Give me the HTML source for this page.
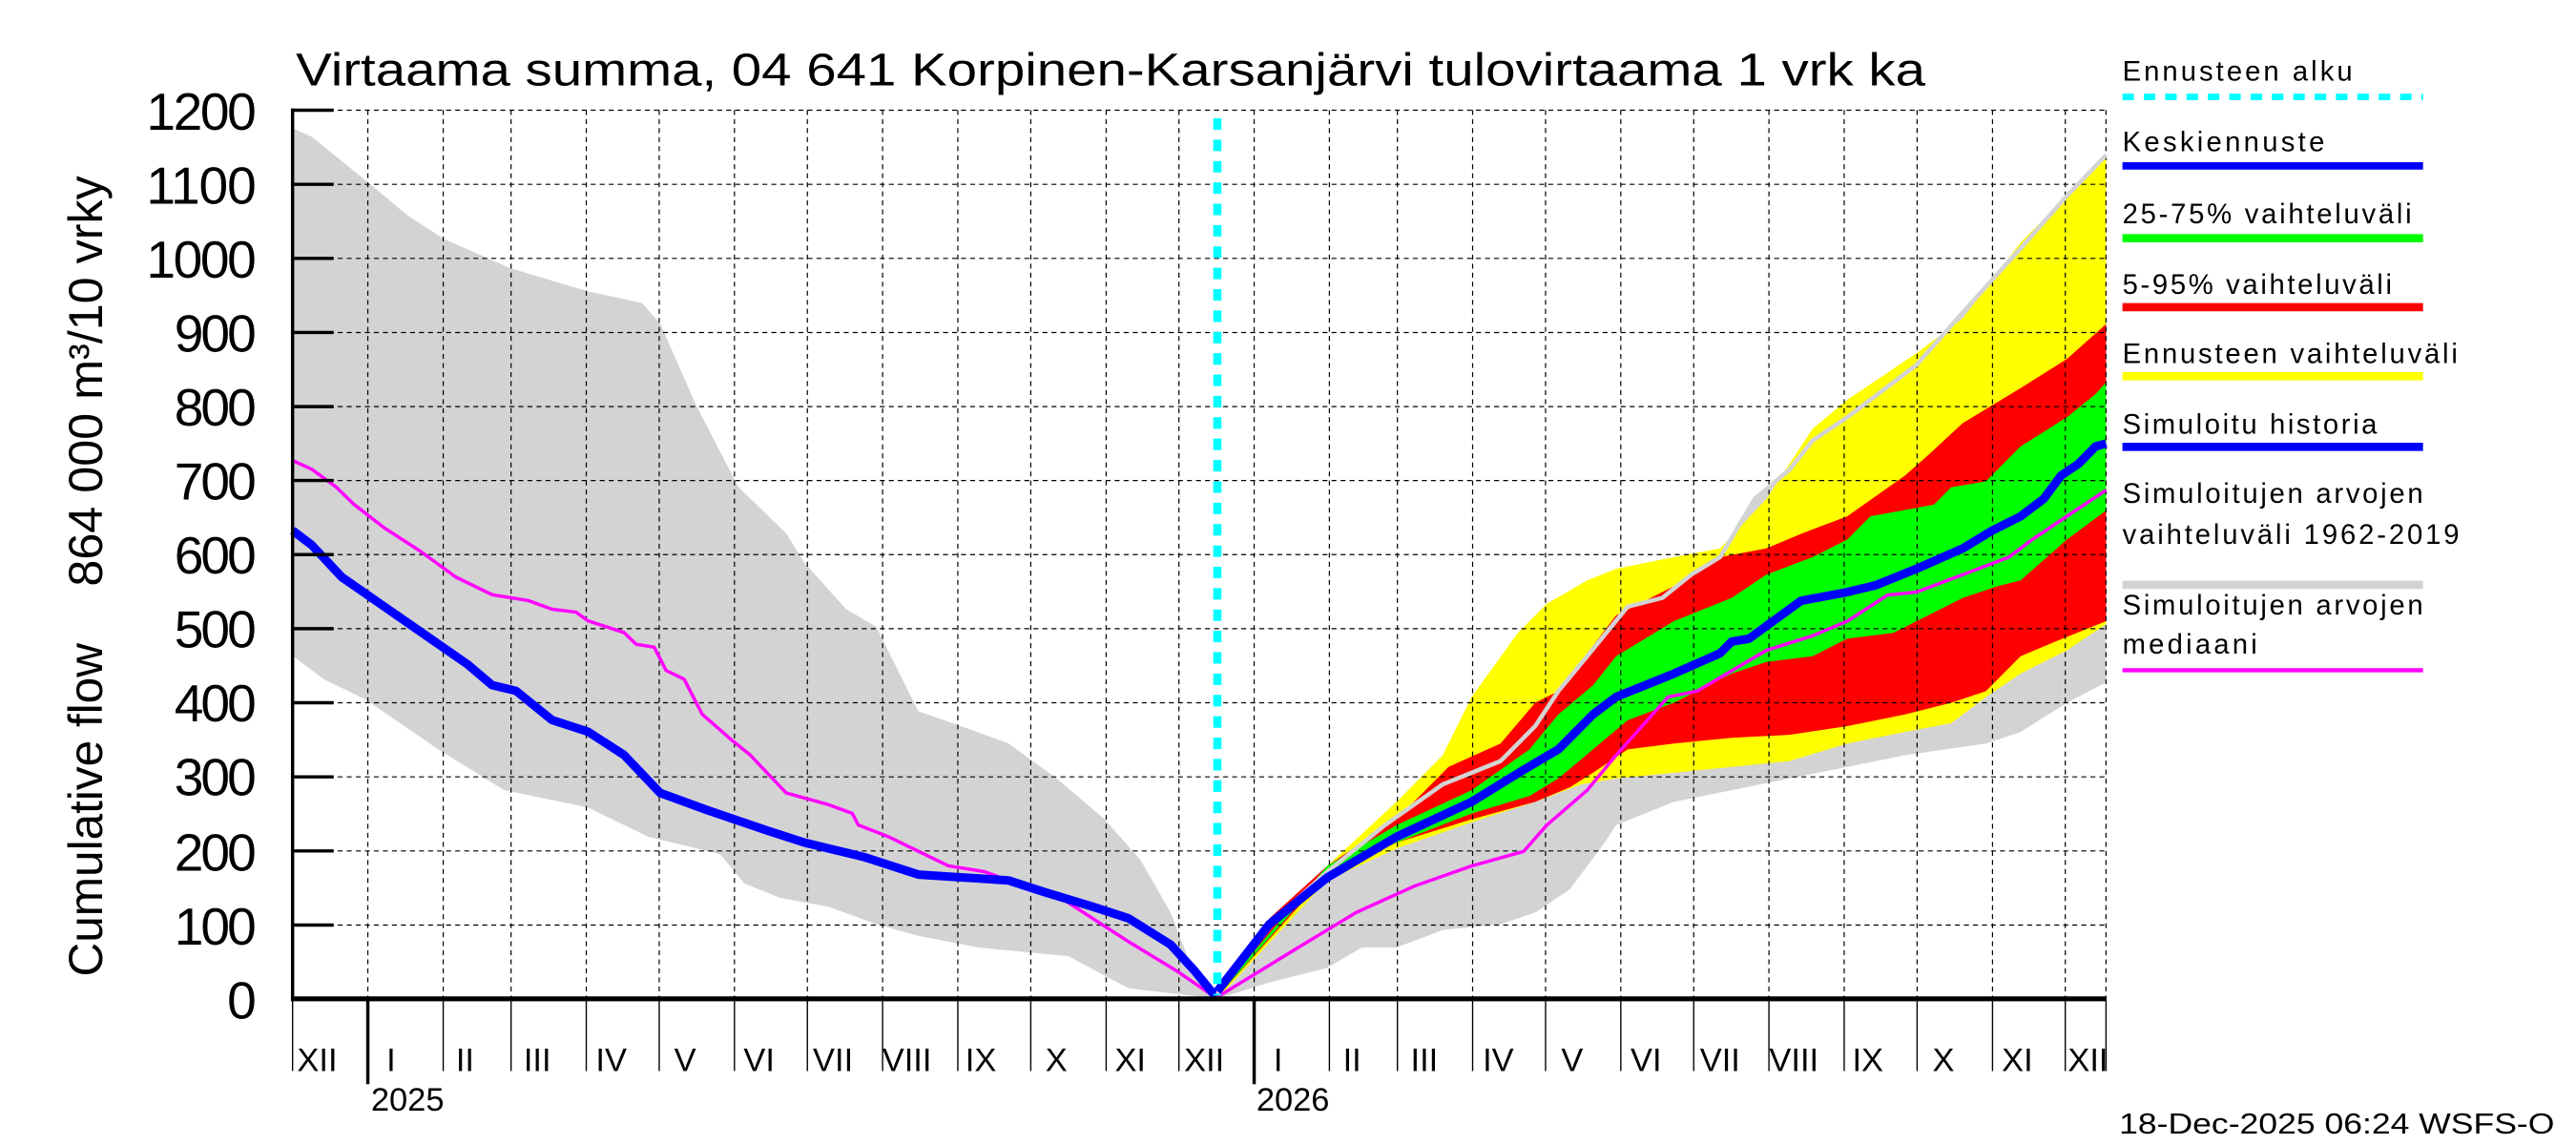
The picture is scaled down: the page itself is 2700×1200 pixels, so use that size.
<!DOCTYPE html>
<html><head><meta charset="utf-8"><style>
html,body{margin:0;padding:0;background:#fff;}
svg{display:block;}
text{font-family:"Liberation Sans",sans-serif;fill:#000;}
</style></head><body>
<svg width="2700" height="1200" viewBox="0 0 1568 697" xmlns="http://www.w3.org/2000/svg">
<rect width="1568" height="697" fill="#fff"/>
<g transform="translate(178 608) scale(0.3656 0.355) translate(-8 -1548)">
<polygon fill="#d3d3d3" points="8,55 40,70 130,145 200,205 260,245 370,295 500,335 590,355 620,390 680,530 750,670 830,750 860,800 930,880 980,910 1050,1055 1120,1080 1200,1110 1280,1170 1360,1240 1420,1310 1470,1400 1500,1480 1548,1548 1400,1530 1300,1475 1150,1460 1050,1440 980,1420 900,1390 820,1375 760,1350 720,1300 600,1270 500,1220 360,1190 250,1120 130,1035 60,1000 8,960"/>
</g>
<g transform="translate(741 608) scale(0.3518 0.3547) translate(-10 -1548)">
<polygon fill="#d3d3d3" points="10,1540 100,1420 200,1330 300,1250 400,1180 500,1140 560,1080 600,1020 650,960 720,875 780,860 830,820 880,790 940,690 1000,640 1040,590 1100,550 1220,460 1300,370 1400,260 1480,170 1548,100 1548,1005 1480,1040 1400,1090 1340,1110 1200,1130 1100,1150 1000,1170 900,1190 800,1210 700,1250 680,1280 620,1360 560,1400 500,1420 400,1430 320,1460 260,1460 200,1495 100,1520 10,1548"/>
<polygon fill="#ffff00" points="10,1540 100,1420 200,1320 320,1210 400,1130 450,1030 530,920 580,870 650,830 700,810 800,790 880,775 960,690 1040,570 1100,520 1220,440 1300,380 1400,250 1480,170 1548,105 1548,905 1480,950 1400,990 1340,1030 1280,1075 1200,1090 1100,1110 1000,1140 900,1150 800,1160 700,1170 640,1180 560,1210 450,1245 320,1290 200,1345 10,1548"/>
<polygon fill="#ff0000" points="10,1540 100,1410 200,1320 320,1240 410,1150 500,1110 560,1040 600,1020 700,890 800,840 880,790 960,775 1020,750 1100,720 1200,650 1240,615 1300,560 1400,500 1480,450 1548,390 1548,900 1460,935 1400,960 1340,1020 1280,1040 1200,1060 1100,1080 1000,1095 900,1100 800,1110 720,1120 660,1160 620,1185 560,1210 450,1240 320,1280 200,1335 10,1545"/>
<polygon fill="#00ff00" points="10,1540 200,1320 320,1250 450,1190 550,1120 600,1060 660,1010 700,960 800,900 900,860 960,820 1040,790 1100,760 1140,720 1250,700 1280,670 1340,660 1400,600 1480,550 1530,510 1548,490 1548,710 1480,760 1400,830 1360,840 1300,860 1220,900 1180,920 1100,930 1040,960 960,970 900,990 800,1040 720,1070 660,1120 600,1170 550,1200 450,1230 320,1280 200,1330 10,1545"/>
</g>
<g stroke="#000" stroke-width="0.7" stroke-dasharray="3,2.5" fill="none">
<path d="M178 67.1H1282M178 112.2H1282M178 157.3H1282M178 202.4H1282M178 247.5H1282M178 292.5H1282M178 337.6H1282M178 382.7H1282M178 427.8H1282M178 472.9H1282M178 518H1282M178 563.1H1282"/>
<path d="M223.8 67V608M269.7 67V608M311 67V608M356.8 67V608M401.2 67V608M447 67V608M491.4 67V608M537.2 67V608M583 67V608M627.4 67V608M673.3 67V608M717.6 67V608M763.4 67V608M809.2 67V608M850.6 67V608M896.4 67V608M940.8 67V608M986.6 67V608M1031 67V608M1076.8 67V608M1122.6 67V608M1167 67V608M1212.9 67V608M1257.2 67V608M1282 67V608"/>
</g>
<g transform="translate(178 608) scale(0.3656 0.355) translate(-8 -1548)" fill="none" stroke-linejoin="round">
<polyline vector-effect="non-scaling-stroke" stroke="#ff00ff" stroke-width="3.5" points="8,625 40,640 80,670 110,700 160,740 220,780 280,825 340,855 400,865 440,880 480,885 500,900 560,920 580,940 610,945 630,985 660,1000 690,1060 740,1105 770,1130 830,1195 900,1215 940,1230 950,1250 1000,1270 1060,1300 1100,1320 1160,1330 1200,1345 1280,1370 1340,1410 1400,1450 1480,1500 1548,1548"/>
<polyline vector-effect="non-scaling-stroke" stroke="#0000ff" stroke-width="9" points="8,745 40,770 90,825 160,875 230,925 300,975 340,1010 380,1020 440,1070 500,1090 560,1130 620,1195 700,1225 800,1260 860,1280 900,1290 960,1305 1050,1335 1200,1345 1260,1365 1340,1390 1400,1410 1470,1455 1510,1500 1548,1548"/>
</g>
<g transform="translate(741 608) scale(0.3518 0.3547) translate(-10 -1548)" fill="none" stroke-linejoin="round">
<polyline vector-effect="non-scaling-stroke" stroke="#d3d3d3" stroke-width="4.5" points="10,1540 100,1420 200,1330 300,1250 400,1180 500,1140 560,1080 600,1020 650,960 720,875 780,860 830,820 880,790 940,690 1000,640 1040,590 1100,550 1220,460 1300,370 1400,260 1480,170 1548,100"/>
<polyline vector-effect="non-scaling-stroke" stroke="#ff00ff" stroke-width="3.5" points="10,1545 150,1460 250,1400 350,1355 450,1320 540,1295 580,1250 650,1190 700,1130 790,1030 840,1020 960,950 1040,925 1100,900 1170,855 1220,850 1300,820 1380,790 1420,760 1480,720 1548,675"/>
<polyline vector-effect="non-scaling-stroke" stroke="#0000ff" stroke-width="9" points="10,1535 100,1420 200,1340 320,1270 450,1210 540,1155 600,1120 660,1060 700,1030 800,990 880,955 900,935 930,930 1020,865 1100,850 1150,838 1220,810 1300,775 1350,745 1400,720 1440,690 1470,650 1500,630 1530,600 1548,595"/>
</g>
<line x1="741" y1="72" x2="741" y2="606" stroke="#00ffff" stroke-width="5" stroke-dasharray="7,6"/>
<g stroke="#000" fill="none">
<line x1="178" y1="66" x2="178" y2="609.5" stroke-width="2"/>
<line x1="177" y1="608" x2="1282" y2="608" stroke-width="3"/>
<path stroke-width="2" d="M178 67.1H203M178 112.2H203M178 157.3H203M178 202.4H203M178 247.5H203M178 292.5H203M178 337.6H203M178 382.7H203M178 427.8H203M178 472.9H203M178 518H203M178 563.1H203"/>
<path stroke-width="0.8" d="M178 608V652M269.7 608V652M311 608V652M356.8 608V652M401.2 608V652M447 608V652M491.4 608V652M537.2 608V652M583 608V652M627.4 608V652M673.3 608V652M717.6 608V652M809.2 608V652M850.6 608V652M896.4 608V652M940.8 608V652M986.6 608V652M1031 608V652M1076.8 608V652M1122.6 608V652M1167 608V652M1212.9 608V652M1257.2 608V652M1282 608V652"/>
<path stroke-width="2" d="M223.8 608V660M763.4 608V660"/>
</g>
<text x="180" y="52" font-size="28" textLength="992" lengthAdjust="spacingAndGlyphs">Virtaama summa, 04 641 Korpinen-Karsanjärvi tulovirtaama 1 vrk ka</text>
<g font-size="32" text-anchor="end" lengthAdjust="spacingAndGlyphs">
<text x="156" y="79" textLength="67">1200</text><text x="156" y="124" textLength="67">1100</text><text x="156" y="169" textLength="67">1000</text>
<text x="156" y="214" textLength="50">900</text><text x="156" y="259" textLength="50">800</text><text x="156" y="304" textLength="50">700</text>
<text x="156" y="349" textLength="50">600</text><text x="156" y="394" textLength="50">500</text><text x="156" y="439" textLength="50">400</text>
<text x="156" y="484" textLength="50">300</text><text x="156" y="530" textLength="50">200</text><text x="156" y="575" textLength="50">100</text>
<text x="156" y="620" textLength="17">0</text>
</g>
<text transform="translate(62 232) rotate(-90)" font-size="29" text-anchor="middle" textLength="250" lengthAdjust="spacingAndGlyphs">864 000 m³/10 vrky</text>
<text transform="translate(62 493) rotate(-90)" font-size="29" text-anchor="middle" textLength="203" lengthAdjust="spacingAndGlyphs">Cumulative flow</text>
<g font-size="20" text-anchor="middle">
<text x="193" y="652">XII</text><text x="238" y="652">I</text><text x="283" y="652">II</text>
<text x="327" y="652">III</text><text x="372" y="652">IV</text><text x="417" y="652">V</text>
<text x="462" y="652">VI</text><text x="507" y="652">VII</text><text x="552" y="652">VIII</text>
<text x="597" y="652">IX</text><text x="643" y="652">X</text><text x="688" y="652">XI</text>
<text x="733" y="652">XII</text><text x="778" y="652">I</text><text x="823" y="652">II</text>
<text x="867" y="652">III</text><text x="912" y="652">IV</text><text x="957" y="652">V</text>
<text x="1002" y="652">VI</text><text x="1047" y="652">VII</text><text x="1092" y="652">VIII</text>
<text x="1137" y="652">IX</text><text x="1183" y="652">X</text><text x="1228" y="652">XI</text>
<text x="1271" y="652">XII</text>
<text x="248" y="676">2025</text><text x="787" y="676">2026</text>
</g>
<g font-size="17" lengthAdjust="spacingAndGlyphs">
<text x="1292" y="49" textLength="140">Ennusteen alku</text>
<line x1="1292" y1="59" x2="1475" y2="59" stroke="#00ffff" stroke-width="4" stroke-dasharray="7,6"/>
<text x="1292" y="92" textLength="123">Keskiennuste</text>
<line x1="1292" y1="101" x2="1475" y2="101" stroke="#0000ff" stroke-width="4.5"/>
<text x="1292" y="136" textLength="176">25-75% vaihteluväli</text>
<line x1="1292" y1="145" x2="1475" y2="145" stroke="#00ff00" stroke-width="5"/>
<text x="1292" y="179" textLength="164">5-95% vaihteluväli</text>
<line x1="1292" y1="187" x2="1475" y2="187" stroke="#ff0000" stroke-width="5"/>
<text x="1292" y="221" textLength="204">Ennusteen vaihteluväli</text>
<line x1="1292" y1="229" x2="1475" y2="229" stroke="#ffff00" stroke-width="5"/>
<text x="1292" y="264" textLength="155">Simuloitu historia</text>
<line x1="1292" y1="272" x2="1475" y2="272" stroke="#0000ff" stroke-width="5"/>
<text x="1292" y="306" textLength="183">Simuloitujen arvojen</text>
<text x="1292" y="331" textLength="205">vaihteluväli 1962-2019</text>
<line x1="1292" y1="356" x2="1475" y2="356" stroke="#d3d3d3" stroke-width="5"/>
<text x="1292" y="374" textLength="183">Simuloitujen arvojen</text>
<text x="1292" y="398" textLength="82">mediaani</text>
<line x1="1292" y1="408" x2="1475" y2="408" stroke="#ff00ff" stroke-width="2.5"/>
</g>
<text x="1290" y="690" font-size="18" textLength="265" lengthAdjust="spacingAndGlyphs">18-Dec-2025 06:24 WSFS-O</text>
</svg>
</body></html>
